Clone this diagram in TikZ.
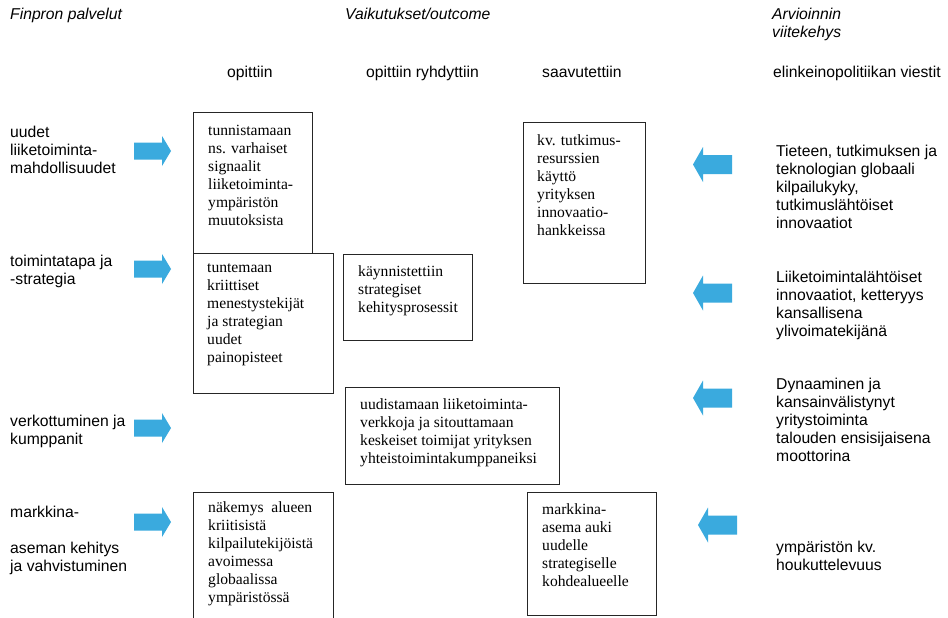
\documentclass[tikz,border=0pt]{standalone}
\usepackage{fontspec}
\setmainfont{Liberation Serif}
\setsansfont{Liberation Sans}
\definecolor{arrowblue}{RGB}{58,170,222}
\begin{document}
\begin{tikzpicture}[x=1pt,y=-1pt,
  sanstxt/.style={font=\sffamily\fontsize{15.7}{18}\selectfont, align=left, anchor=north west, inner sep=0pt},
  hdr/.style={sanstxt, font=\sffamily\itshape\fontsize{15.7}{18}\selectfont},
  seriftxt/.style={font=\rmfamily\fontsize{15.6}{18}\selectfont, align=left, anchor=north west, inner sep=0pt},
  outbox/.style={draw=black!85, line width=1.2pt, anchor=north west, inner sep=0pt},
  rightarrow/.pic={\fill[arrowblue] (0,-8.5) -- (28,-8.5) -- (28,-15) -- (37,0) -- (28,15) -- (28,8.5) -- (0,8.5) -- cycle;},
  leftarrow/.pic={\fill[arrowblue] (0,-9.5) -- (-29,-9.5) -- (-29,-17.5) -- (-39,0) -- (-29,17.5) -- (-29,9.5) -- (0,9.5) -- cycle;}
]
\useasboundingbox (0,0) rectangle (948,618);
\clip (0,0) rectangle (948,618);
\fill[white] (0,0) rectangle (948,618);

% headers
\node[hdr] (fin) at (10,8) {Finpron palvelut};
\node[hdr] (vaik) at (345,8) {Vaikutukset/outcome};
\node[hdr] (arv) at (772,8) {Arvioinnin\\viitekehys};
\node[sanstxt] (h1) at (227,66) {opittiin};
\node[sanstxt] (h2) at (366,66) {opittiin ryhdyttiin};
\node[sanstxt] (h3) at (542,66) {saavutettiin};
\node[sanstxt] (h4) at (773,66) {elinkeinopolitiikan viestit};

% left column
\node[sanstxt] (l1) at (10,126) {uudet\\liiketoiminta-\\mahdollisuudet};
\node[sanstxt] (l2) at (10,255) {toimintatapa ja\\-strategia};
\node[sanstxt] (l3) at (10,415) {verkottuminen ja\\kumppanit};
\node[sanstxt] (l4) at (10,506) {markkina-\\[18pt]aseman kehitys\\ja vahvistuminen};

% right column
\node[sanstxt] (r1) at (776,145) {Tieteen, tutkimuksen ja\\teknologian globaali\\kilpailukyky,\\tutkimuslähtöiset\\innovaatiot};
\node[sanstxt] (r2) at (776,271) {Liiketoimintalähtöiset\\innovaatiot, ketteryys\\kansallisena\\ylivoimatekijänä};
\node[sanstxt] (r3) at (776,378) {Dynaaminen ja\\kansainvälistynyt\\yritystoiminta\\talouden ensisijaisena\\moottorina};
\node[sanstxt] (r4) at (776,541) {ympäristön kv.\\houkuttelevuus};

% arrows
\pic at (134,151) {rightarrow};
\pic at (134,269) {rightarrow};
\pic at (134,428) {rightarrow};
\pic at (134,522) {rightarrow};
\pic at (732,164.5) {leftarrow};
\pic at (732,293) {leftarrow};
\pic at (732,398) {leftarrow};
\pic at (737,525) {leftarrow};

% boxes
\node[outbox, minimum width=119pt, minimum height=141pt] (b1) at (193,112) {};
\node[outbox, minimum width=140pt, minimum height=140pt] (b2) at (193,253) {};
\node[outbox, minimum width=129pt, minimum height=86pt] (b3) at (343,254) {};
\node[outbox, minimum width=122pt, minimum height=161pt] (b4) at (523,122) {};
\node[outbox, minimum width=214pt, minimum height=97pt] (b5) at (345,387) {};
\node[outbox, minimum width=140pt, minimum height=150pt] (b6) at (193,492) {};
\node[outbox, minimum width=129pt, minimum height=123pt] (b7) at (527,492) {};

% box texts
\node[seriftxt] (b1t) at (208,125) {tunnistamaan\\ns. varhaiset\\signaalit\\liiketoiminta-\\ympäristön\\muutoksista};
\node[seriftxt] (b2t) at (207,264) {tuntemaan\\kriittiset\\menestystekijät\\ja strategian\\uudet\\painopisteet};
\node[seriftxt] (b3t) at (358,265) {käynnistettiin\\strategiset\\kehitysprosessit};
\node[seriftxt] (b4t) at (537,134) {kv. tutkimus-\\resurssien\\käyttö\\yrityksen\\innovaatio-\\hankkeissa};
\node[seriftxt] (b5t) at (360,398) {uudistamaan liiketoiminta-\\verkkoja ja sitouttamaan\\keskeiset toimijat yrityksen\\yhteistoimintakumppaneiksi};
\node[seriftxt] (b6t) at (208,501) {näkemys\hspace{0.5em}alueen\\kriitisistä\\kilpailutekijöistä\\avoimessa\\globaalissa\\ympäristössä};
\node[seriftxt] (b7t) at (542,503) {markkina-\\asema auki\\uudelle\\strategiselle\\kohdealueelle};
\end{tikzpicture}
\end{document}
